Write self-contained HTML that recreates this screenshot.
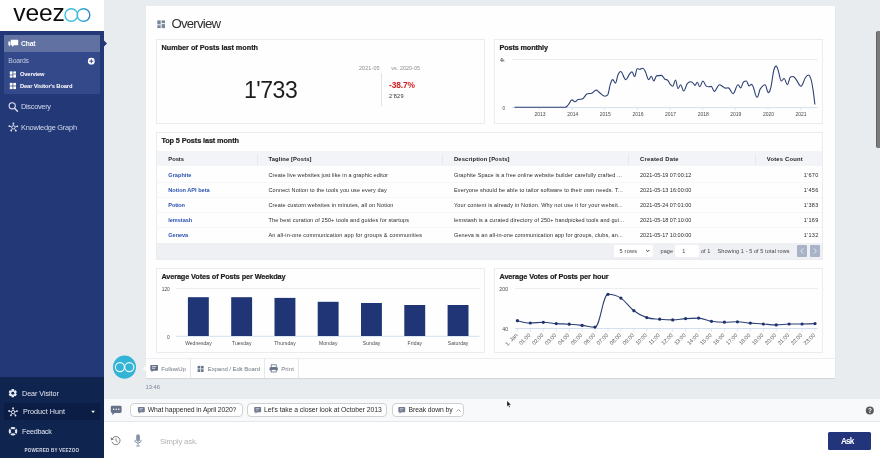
<!DOCTYPE html><html><head><meta charset="utf-8"><title>Veezoo - Overview</title><style>
html,body{margin:0;padding:0}
body{width:880px;height:458px;overflow:hidden;background:#e9ecee;position:relative;font-family:"Liberation Sans", sans-serif}
#r div,#r span,#r svg{position:absolute}
#r div{box-sizing:border-box}
.t{white-space:nowrap;line-height:1;transform:translateY(-50%)}
.c{white-space:nowrap;line-height:1;transform:translate(-50%,-50%)}
.card{background:#fefefe;border:1px solid #ebecee}

</style></head><body><div id="r">
<div style="left:0px;top:0px;width:104px;height:31px;background:#fff"></div>
<div style="left:0px;top:31px;width:104px;height:346px;background:#233977"></div>
<div style="left:0px;top:377px;width:104px;height:81px;background:#102450"></div>
<div style="left:4px;top:35px;width:96px;height:17px;background:#6071a2"></div>
<div style="left:4px;top:52px;width:96px;height:41.6px;background:#34498a"></div>
<div style="left:4px;top:403.2px;width:96px;height:16.8px;background:#0c1d45"></div>
<div style="left:145.5px;top:6px;width:689.5px;height:372px;background:#fefefe;box-shadow:0 1px 1px rgba(0,0,0,.08)"></div>
<div class="card" style="left:156px;top:39px;width:329px;height:85px;"></div>
<div class="card" style="left:494px;top:39px;width:329px;height:85px;"></div>
<div class="card" style="left:156px;top:132px;width:667px;height:128px;"></div>
<div class="card" style="left:156px;top:268px;width:329px;height:85px;"></div>
<div class="card" style="left:494px;top:268px;width:329px;height:85px;"></div>
<div style="left:157px;top:151.4px;width:665px;height:15px;background:#f3f4f8"></div>
<div style="left:157px;top:182px;width:665px;height:0.8px;background:#f6f7f8"></div>
<div style="left:157px;top:197px;width:665px;height:0.8px;background:#f6f7f8"></div>
<div style="left:157px;top:212px;width:665px;height:0.8px;background:#f6f7f8"></div>
<div style="left:157px;top:227px;width:665px;height:0.8px;background:#f6f7f8"></div>
<div style="left:157px;top:242.5px;width:665px;height:16.5px;background:#eef0f4"></div>
<div style="left:257px;top:154px;width:0.8px;height:10.5px;background:#e6e8ed"></div>
<div style="left:442.3px;top:154px;width:0.8px;height:10.5px;background:#e6e8ed"></div>
<div style="left:628.2px;top:154px;width:0.8px;height:10.5px;background:#e6e8ed"></div>
<div style="left:755px;top:154px;width:0.8px;height:10.5px;background:#e6e8ed"></div>
<div style="left:614.2px;top:245px;width:39px;height:12px;background:#fff;border-radius:1.5px"></div>
<div style="left:675px;top:245px;width:23.7px;height:12px;background:#fff;border-radius:1.5px"></div>
<div style="left:796.9px;top:245.4px;width:10.4px;height:11.2px;background:#a8b3c8;border-radius:1px"></div>
<div style="left:810px;top:245.4px;width:10.3px;height:11.2px;background:#a8b3c8;border-radius:1px"></div>
<div style="left:381.2px;top:73px;width:0.8px;height:33px;background:#dfe2e6"></div>
<div style="left:145.5px;top:358.3px;width:689.5px;height:0.7px;background:#eceef1"></div>
<div style="left:190px;top:359px;width:0.8px;height:19px;background:#e6e8ec"></div>
<div style="left:264.4px;top:359px;width:0.8px;height:19px;background:#e6e8ec"></div>
<div style="left:298px;top:359px;width:0.8px;height:19px;background:#e6e8ec"></div>
<div style="left:104px;top:399px;width:776px;height:23.4px;background:#f8f9fa;border-bottom:1px solid #e6e7e9"></div>
<div style="left:104px;top:422.4px;width:776px;height:35.6px;background:#fff"></div>
<div style="left:130px;top:403px;width:113px;height:14px;background:#fff;border:1px solid #cfd0d3;border-radius:4px"></div>
<div style="left:247px;top:403px;width:140px;height:14px;background:#fff;border:1px solid #cfd0d3;border-radius:4px"></div>
<div style="left:392px;top:403px;width:72px;height:14px;background:#fff;border:1px solid #cfd0d3;border-radius:4px"></div>
<div style="left:828px;top:432px;width:42.6px;height:18.2px;background:#22357b;border-radius:1.5px"></div>
<div style="left:876px;top:31px;width:5px;height:116.5px;background:#7a7a7a;border-left:1px solid #636363;border-radius:2px 0 0 2px"></div>
<svg width="880" height="458" viewBox="0 0 880 458" style="left:0;top:0">
<defs><linearGradient id="lg" x1="0" x2="1"><stop offset="0" stop-color="#3fc0dc"/><stop offset="1" stop-color="#2a86c6"/></linearGradient></defs>
<circle cx="71.3" cy="15" r="6.3" fill="none" stroke="#3cbddb" stroke-width="1.4"/>
<circle cx="83.5" cy="15" r="6.3" fill="none" stroke="url(#lg)" stroke-width="1.4"/>
<path d="M8.4 41.6h2v3.6h-.4v1.3l-1.2-1.3h-.4z" fill="#fff"/>
<path d="M11.4 39.7h6.2q.6 0 .6.6v4.3q0 .6-.6.6h-3.6l-1.9 1.9v-1.9h-.7q-.6 0-.6-.6v-4.3q0-.6.6-.6z" fill="#fff"/>
<circle cx="91.3" cy="61.2" r="3.4" fill="#fff"/><path d="M89.3 61.2h4M91.3 59.2v4" stroke="#34498a" stroke-width="1"/>
<rect x="9.80" y="71.40" width="2.73" height="3.22" fill="#fff"/>
<rect x="9.80" y="75.37" width="2.73" height="2.23" fill="#fff"/>
<rect x="13.27" y="71.40" width="2.73" height="2.23" fill="#fff"/>
<rect x="13.27" y="74.38" width="2.73" height="3.22" fill="#fff"/>
<rect x="9.80" y="82.90" width="2.73" height="2.73" fill="#fff"/>
<rect x="9.80" y="86.37" width="2.73" height="2.73" fill="#fff"/>
<rect x="13.27" y="82.90" width="2.73" height="2.73" fill="#fff"/>
<rect x="13.27" y="86.37" width="2.73" height="2.73" fill="#fff"/>
<rect x="157.30" y="20.40" width="3.39" height="4.00" fill="#7a869c"/>
<rect x="157.30" y="25.33" width="3.39" height="2.77" fill="#7a869c"/>
<rect x="161.61" y="20.40" width="3.39" height="2.77" fill="#7a869c"/>
<rect x="161.61" y="24.10" width="3.39" height="4.00" fill="#7a869c"/>
<rect x="197.60" y="365.90" width="2.64" height="2.64" fill="#66728a"/>
<rect x="197.60" y="369.26" width="2.64" height="2.64" fill="#66728a"/>
<rect x="200.96" y="365.90" width="2.64" height="2.64" fill="#66728a"/>
<rect x="200.96" y="369.26" width="2.64" height="2.64" fill="#66728a"/>
<circle cx="12.2" cy="105.8" r="3.1" fill="none" stroke="#dfe4f2" stroke-width="1.1"/><path d="M14.5 108.2l3 3" stroke="#dfe4f2" stroke-width="1.4" stroke-linecap="round"/>
<g stroke="#dfe4f2" stroke-width=".7" fill="#dfe4f2">
<circle cx="13.4" cy="127.3" r="1.7" fill="none" stroke-width=".9"/>
<path d="M13.4 125.6L13.4 123.4"/><circle cx="13.4" cy="123.4" r=".9" stroke="none"/>
<path d="M15.0 126.9L17.3 126.3"/><circle cx="17.3" cy="126.3" r=".9" stroke="none"/>
<path d="M14.4 128.7L15.8 130.7"/><circle cx="15.8" cy="130.7" r=".9" stroke="none"/>
<path d="M12.4 128.7L11.2 130.5"/><circle cx="11.2" cy="130.5" r=".9" stroke="none"/>
<path d="M11.8 126.9L9.4 126.2"/><circle cx="9.4" cy="126.2" r=".9" stroke="none"/>
</g>
<g stroke="#e6e9f2" stroke-width=".7" fill="#e6e9f2">
<circle cx="13.1" cy="412.1" r="1.7" fill="none" stroke-width=".9"/>
<path d="M13.1 410.4L13.1 408.2"/><circle cx="13.1" cy="408.2" r=".9" stroke="none"/>
<path d="M14.7 411.7L17.0 411.1"/><circle cx="17.0" cy="411.1" r=".9" stroke="none"/>
<path d="M14.1 413.5L15.5 415.5"/><circle cx="15.5" cy="415.5" r=".9" stroke="none"/>
<path d="M12.1 413.5L10.9 415.3"/><circle cx="10.9" cy="415.3" r=".9" stroke="none"/>
<path d="M11.5 411.7L9.1 411.0"/><circle cx="9.1" cy="411.0" r=".9" stroke="none"/>
</g>
<g fill="#e6e9f2">
<rect x="11.55" y="389.10" width="2.5" height="8.2" rx=".3" transform="rotate(0 12.80 393.20)"/>
<rect x="11.55" y="389.10" width="2.5" height="8.2" rx=".3" transform="rotate(60 12.80 393.20)"/>
<rect x="11.55" y="389.10" width="2.5" height="8.2" rx=".3" transform="rotate(120 12.80 393.20)"/>
<circle cx="12.80" cy="393.20" r="3.05"/></g><circle cx="12.80" cy="393.20" r="1.45" fill="#102450"/>
<circle cx="13" cy="431.3" r="3.25" fill="none" stroke="#e6e9f2" stroke-width="2.1"/>
<path d="M9.9 428.2l1.6 1.6M16.1 428.2l-1.6 1.6M9.9 434.4l1.6-1.6M16.1 434.4l-1.6-1.6" stroke="#102450" stroke-width="1.1"/>
<path d="M91.2 410.8h3.8l-1.9 2.1z" fill="#fff"/>
<path d="M151.00 364.90h6.30q.7 0 .7.7v4.40q0 .7-.7.7h-4.20l-1.5 1.5v-1.5h-.6q-.7 0-.7-.7v-4.40q0-.7.7-.7z" fill="#66728a"/>
<path d="M152 366.6h4.2M152 368.3h3" stroke="#fff" stroke-width=".7"/>
<g fill="#66728a"><rect x="271.2" y="364.8" width="5" height="2.6" fill="none" stroke="#66728a" stroke-width=".8"/><rect x="269.6" y="367.2" width="8.2" height="3.4" rx=".7"/><rect x="271.2" y="369.4" width="5" height="2.6" fill="#fff" stroke="#66728a" stroke-width=".8"/></g>
<path d="M138.60 406.90h5.50q.7 0 .7.7v3.90q0 .7-.7.7h-3.40l-1.5 1.5v-1.5h-.6q-.7 0-.7-.7v-3.90q0-.7.7-.7z" fill="#6e7b90"/>
<path d="M139.5 408.6h3.6M139.5 410.1h2.6" stroke="#e8ebf0" stroke-width=".6"/>
<path d="M254.90 406.90h5.50q.7 0 .7.7v3.90q0 .7-.7.7h-3.40l-1.5 1.5v-1.5h-.6q-.7 0-.7-.7v-3.90q0-.7.7-.7z" fill="#6e7b90"/>
<path d="M255.8 408.6h3.6M255.8 410.1h2.6" stroke="#e8ebf0" stroke-width=".6"/>
<path d="M399.00 406.90h5.50q.7 0 .7.7v3.90q0 .7-.7.7h-3.40l-1.5 1.5v-1.5h-.6q-.7 0-.7-.7v-3.90q0-.7.7-.7z" fill="#6e7b90"/>
<path d="M399.9 408.6h3.6M399.9 410.1h2.6" stroke="#e8ebf0" stroke-width=".6"/>
<path d="M112.1 405.7h8.2q1.3 0 1.3 1.3v4.6q0 1.3-1.3 1.3h-5.6l-2.4 2.4v-2.4h-.2q-1.3 0-1.3-1.3v-4.6q0-1.3 1.3-1.3z" fill="#66728a"/>
<g fill="#fff"><circle cx="113.6" cy="409.3" r=".75"/><circle cx="116.2" cy="409.3" r=".75"/><circle cx="118.8" cy="409.3" r=".75"/></g>
<path d="M456.6 411.6l2-2 2 2" stroke="#777" stroke-width=".7" fill="none"/>
<path d="M112.6 438.2a4.1 4.1 0 1 1 -.6 3.6" fill="none" stroke="#7b7b7b" stroke-width="1"/><path d="M110.6 437.2l.6 3.2 3-1.2z" fill="#7b7b7b"/><path d="M116 438.3v2.6l1.7 1.1" fill="none" stroke="#7b7b7b" stroke-width=".9"/>
<rect x="136.2" y="434.3" width="3.7" height="7.4" rx="1.85" fill="#8592a5"/><path d="M134.8 439.8a3.25 3.25 0 0 0 6.5 0M138.05 443v2.6M136.2 446h3.7" fill="none" stroke="#8592a5" stroke-width=".95"/>
<path d="M646.2 250l1.6 1.6 1.6-1.6" stroke="#222" stroke-width=".9" fill="none"/>
<path d="M803.2 248.4l-2.4 2.6 2.4 2.6M813.9 248.4l2.4 2.6-2.4 2.6" stroke="#e8ecf3" stroke-width=".9" fill="none"/>
<path d="M104 40.5 L107 43.5 L104 46.5Z" fill="#233977"/>
<path d="M512 59.5H817.6" stroke="#e6e8ec" stroke-width=".8"/>
<path d="M512 107.6H817.6" stroke="#ccd6eb" stroke-width=".8"/>
<path d="M539.4 108v2.2" stroke="#ccd6eb" stroke-width=".6"/>
<path d="M572.1 108v2.2" stroke="#ccd6eb" stroke-width=".6"/>
<path d="M604.7 108v2.2" stroke="#ccd6eb" stroke-width=".6"/>
<path d="M637.4 108v2.2" stroke="#ccd6eb" stroke-width=".6"/>
<path d="M670.0 108v2.2" stroke="#ccd6eb" stroke-width=".6"/>
<path d="M702.7 108v2.2" stroke="#ccd6eb" stroke-width=".6"/>
<path d="M735.4 108v2.2" stroke="#ccd6eb" stroke-width=".6"/>
<path d="M768.0 108v2.2" stroke="#ccd6eb" stroke-width=".6"/>
<path d="M800.7 108v2.2" stroke="#ccd6eb" stroke-width=".6"/>
<path d="M514.5 107.2 C514.5 107.2 529.8 107.2 540.0 107.2 C548.8 107.2 553.2 107.2 562.0 107.2 C563.5 107.2 564.2 107.2 565.7 107.1 C566.8 107.0 567.4 105.8 568.5 104.5 C569.9 102.9 570.5 99.9 571.9 99.9 C573.1 99.9 573.8 101.7 575.0 101.7 C576.2 101.7 576.8 100.0 578.0 99.5 C579.7 99.0 580.5 99.5 582.2 99.0 C584.3 98.5 585.3 94.2 587.4 93.7 C589.1 93.2 589.9 93.7 591.6 93.2 C593.5 92.7 594.4 90.1 596.3 90.1 C597.7 90.1 598.5 92.0 599.9 93.0 C601.9 94.4 603.0 96.2 605.0 96.2 C606.1 96.2 606.6 96.2 607.7 94.9 C608.7 93.6 609.2 87.8 610.2 84.7 C611.2 81.6 611.7 79.6 612.7 79.6 C613.8 79.6 614.3 83.1 615.4 83.1 C616.5 83.1 617.0 76.8 618.1 74.4 C619.1 72.2 619.6 71.5 620.6 71.5 C622.7 71.5 623.7 79.6 625.8 79.6 C627.2 79.6 627.9 76.1 629.3 74.4 C630.4 73.1 630.9 71.9 632.0 71.9 C633.1 71.9 633.6 76.5 634.7 76.5 C635.7 76.5 636.2 68.8 637.2 68.8 C638.2 68.8 638.7 69.2 639.7 69.2 C640.9 69.2 641.6 68.2 642.8 68.2 C643.9 68.2 644.4 69.8 645.5 71.9 C646.7 74.3 647.4 79.6 648.6 79.6 C649.7 79.6 650.2 76.2 651.3 76.2 C652.3 76.2 652.8 81.0 653.8 81.0 C654.8 81.0 655.4 76.4 656.4 75.9 C658.4 75.4 659.4 75.4 661.4 75.4 C662.8 75.4 663.5 78.1 664.9 79.2 C666.0 80.0 666.5 79.2 667.6 80.2 C668.7 81.2 669.2 83.2 670.3 84.4 C671.3 85.6 671.8 86.2 672.8 86.2 C673.9 86.2 674.4 80.0 675.5 80.0 C676.5 80.0 677.0 88.5 678.0 88.5 C679.1 88.5 679.6 84.8 680.7 84.8 C681.9 84.8 682.4 91.0 683.6 91.0 C685.1 91.0 685.8 85.7 687.3 83.7 C688.5 82.0 689.2 81.7 690.4 81.7 C691.5 81.7 692.0 82.2 693.1 83.1 C693.9 83.7 694.2 85.4 695.0 85.4 C695.9 85.4 696.4 82.3 697.3 82.3 C698.3 82.3 698.8 86.8 699.8 86.8 C701.0 86.8 701.7 81.0 702.9 81.0 C704.1 81.0 704.8 84.8 706.0 85.8 C707.1 86.8 707.6 86.8 708.7 86.8 C709.7 86.8 710.2 86.4 711.2 86.4 C712.4 86.4 713.1 91.4 714.3 91.4 C716.4 91.4 717.4 84.8 719.5 84.8 C720.7 84.8 721.4 85.7 722.6 86.4 C723.6 87.0 724.1 88.1 725.1 88.1 C726.4 88.1 727.1 87.9 728.4 87.9 C730.2 87.9 731.2 93.7 733.0 93.7 C735.0 93.7 736.1 84.8 738.1 84.8 C739.1 84.8 739.6 87.9 740.6 87.9 C741.8 87.9 742.5 82.4 743.7 81.7 C744.8 81.0 745.3 81.0 746.4 81.0 C747.5 81.0 748.0 86.0 749.1 86.0 C750.1 86.0 750.6 84.4 751.6 84.4 C753.8 84.4 755.0 97.2 757.2 97.2 C758.4 97.2 759.1 90.8 760.3 88.9 C762.2 85.9 763.2 84.8 765.1 84.8 C766.3 84.8 767.0 92.6 768.2 92.6 C769.0 92.6 769.5 92.6 770.3 89.3 C771.7 86.0 772.4 75.9 773.8 70.3 C774.7 66.6 775.2 66.1 776.1 66.1 C776.9 66.1 777.4 67.9 778.2 70.3 C779.4 73.9 780.1 81.0 781.3 81.0 C782.5 81.0 783.0 78.5 784.2 78.5 C785.4 78.5 786.1 84.8 787.3 84.8 C788.5 84.8 789.2 77.7 790.4 77.1 C791.5 76.5 792.0 76.5 793.1 76.5 C794.3 76.5 795.0 78.1 796.2 79.6 C798.1 82.0 799.1 86.2 801.0 86.2 C802.8 86.2 803.7 80.2 805.5 77.5 C806.7 75.7 807.4 75.0 808.6 75.0 C809.3 75.0 809.6 75.0 810.3 77.5 C812.1 80.0 814.9 104.5 814.9 104.5" fill="none" stroke="#2b3f73" stroke-width="1.1" stroke-linejoin="round"/>
<path d="M176 288.5H479.4" stroke="#e6e8ec" stroke-width=".8"/>
<path d="M176 336.3H479.4" stroke="#ccd6eb" stroke-width=".8"/>
<rect x="187.9" y="297.2" width="20.9" height="38.8" fill="#1f3575"/>
<rect x="231.2" y="297.2" width="20.9" height="38.8" fill="#1f3575"/>
<rect x="274.5" y="297.9" width="20.9" height="38.1" fill="#1f3575"/>
<rect x="317.7" y="301.8" width="20.9" height="34.2" fill="#1f3575"/>
<rect x="361.0" y="303.0" width="20.9" height="33.0" fill="#1f3575"/>
<rect x="404.3" y="305.0" width="20.9" height="31.0" fill="#1f3575"/>
<rect x="447.6" y="305.0" width="20.9" height="31.0" fill="#1f3575"/>
<path d="M515 288.5H817.7" stroke="#e6e8ec" stroke-width=".8"/>
<path d="M515 328.5H817.7" stroke="#ccd6eb" stroke-width=".8"/>
<path d="M517.4 320.7 C517.4 320.7 525.2 323.0 530.3 323.0 C535.5 323.0 538.1 322.3 543.3 322.3 C548.5 322.3 551.0 323.2 556.2 323.6 C561.4 324.0 564.0 323.8 569.2 324.2 C574.3 324.6 576.9 324.8 582.1 325.4 C587.3 326.0 589.9 327.1 595.0 327.1 C600.2 327.1 602.8 294.3 608.0 294.3 C613.2 294.3 615.7 294.8 620.9 298.1 C626.1 301.4 628.7 306.8 633.9 310.7 C639.0 314.6 641.6 316.0 646.8 317.6 C652.0 319.2 654.6 318.7 659.7 319.2 C664.9 319.7 667.5 319.9 672.7 319.9 C677.9 319.9 680.4 319.0 685.6 318.6 C690.8 318.2 693.4 318.1 698.6 318.1 C703.7 318.1 706.3 320.5 711.5 321.3 C716.7 322.1 719.3 322.2 724.4 322.2 C729.6 322.2 732.2 321.8 737.4 321.8 C742.6 321.8 745.1 322.7 750.3 323.1 C755.5 323.5 758.1 323.6 763.3 324.0 C768.4 324.4 771.0 324.9 776.2 324.9 C781.4 324.9 784.0 324.0 789.1 324.0 C794.3 324.0 796.9 324.0 802.1 324.0 C807.3 324.0 815.0 323.6 815.0 323.6" fill="none" stroke="#2b3f73" stroke-width="1.1"/>
<circle cx="517.4" cy="320.7" r="1.6" fill="#1f3270"/>
<circle cx="530.3" cy="323.0" r="1.6" fill="#1f3270"/>
<circle cx="543.3" cy="322.3" r="1.6" fill="#1f3270"/>
<circle cx="556.2" cy="323.6" r="1.6" fill="#1f3270"/>
<circle cx="569.2" cy="324.2" r="1.6" fill="#1f3270"/>
<circle cx="582.1" cy="325.4" r="1.6" fill="#1f3270"/>
<circle cx="595.0" cy="327.1" r="1.6" fill="#1f3270"/>
<circle cx="608.0" cy="294.3" r="1.6" fill="#1f3270"/>
<circle cx="620.9" cy="298.1" r="1.6" fill="#1f3270"/>
<circle cx="633.9" cy="310.7" r="1.6" fill="#1f3270"/>
<circle cx="646.8" cy="317.6" r="1.6" fill="#1f3270"/>
<circle cx="659.7" cy="319.2" r="1.6" fill="#1f3270"/>
<circle cx="672.7" cy="319.9" r="1.6" fill="#1f3270"/>
<circle cx="685.6" cy="318.6" r="1.6" fill="#1f3270"/>
<circle cx="698.6" cy="318.1" r="1.6" fill="#1f3270"/>
<circle cx="711.5" cy="321.3" r="1.6" fill="#1f3270"/>
<circle cx="724.4" cy="322.2" r="1.6" fill="#1f3270"/>
<circle cx="737.4" cy="321.8" r="1.6" fill="#1f3270"/>
<circle cx="750.3" cy="323.1" r="1.6" fill="#1f3270"/>
<circle cx="763.3" cy="324.0" r="1.6" fill="#1f3270"/>
<circle cx="776.2" cy="324.9" r="1.6" fill="#1f3270"/>
<circle cx="789.1" cy="324.0" r="1.6" fill="#1f3270"/>
<circle cx="802.1" cy="324.0" r="1.6" fill="#1f3270"/>
<circle cx="815.0" cy="323.6" r="1.6" fill="#1f3270"/>
<path d="M517.4 328.9v2.8" stroke="#ccd6eb" stroke-width=".6"/>
<text x="517.0" y="336" font-size="5.5" fill="#555" text-anchor="end" transform="rotate(-45 517.0 334.6)">1. Jan</text>
<path d="M530.3 328.9v2.8" stroke="#ccd6eb" stroke-width=".6"/>
<text x="529.9" y="336" font-size="5.5" fill="#555" text-anchor="end" transform="rotate(-45 529.9 334.6)">01:00</text>
<path d="M543.3 328.9v2.8" stroke="#ccd6eb" stroke-width=".6"/>
<text x="542.9" y="336" font-size="5.5" fill="#555" text-anchor="end" transform="rotate(-45 542.9 334.6)">02:00</text>
<path d="M556.2 328.9v2.8" stroke="#ccd6eb" stroke-width=".6"/>
<text x="555.8" y="336" font-size="5.5" fill="#555" text-anchor="end" transform="rotate(-45 555.8 334.6)">03:00</text>
<path d="M569.2 328.9v2.8" stroke="#ccd6eb" stroke-width=".6"/>
<text x="568.8" y="336" font-size="5.5" fill="#555" text-anchor="end" transform="rotate(-45 568.8 334.6)">04:00</text>
<path d="M582.1 328.9v2.8" stroke="#ccd6eb" stroke-width=".6"/>
<text x="581.7" y="336" font-size="5.5" fill="#555" text-anchor="end" transform="rotate(-45 581.7 334.6)">05:00</text>
<path d="M595.0 328.9v2.8" stroke="#ccd6eb" stroke-width=".6"/>
<text x="594.6" y="336" font-size="5.5" fill="#555" text-anchor="end" transform="rotate(-45 594.6 334.6)">06:00</text>
<path d="M608.0 328.9v2.8" stroke="#ccd6eb" stroke-width=".6"/>
<text x="607.6" y="336" font-size="5.5" fill="#555" text-anchor="end" transform="rotate(-45 607.6 334.6)">07:00</text>
<path d="M620.9 328.9v2.8" stroke="#ccd6eb" stroke-width=".6"/>
<text x="620.5" y="336" font-size="5.5" fill="#555" text-anchor="end" transform="rotate(-45 620.5 334.6)">08:00</text>
<path d="M633.9 328.9v2.8" stroke="#ccd6eb" stroke-width=".6"/>
<text x="633.5" y="336" font-size="5.5" fill="#555" text-anchor="end" transform="rotate(-45 633.5 334.6)">09:00</text>
<path d="M646.8 328.9v2.8" stroke="#ccd6eb" stroke-width=".6"/>
<text x="646.4" y="336" font-size="5.5" fill="#555" text-anchor="end" transform="rotate(-45 646.4 334.6)">10:00</text>
<path d="M659.7 328.9v2.8" stroke="#ccd6eb" stroke-width=".6"/>
<text x="659.3" y="336" font-size="5.5" fill="#555" text-anchor="end" transform="rotate(-45 659.3 334.6)">11:00</text>
<path d="M672.7 328.9v2.8" stroke="#ccd6eb" stroke-width=".6"/>
<text x="672.3" y="336" font-size="5.5" fill="#555" text-anchor="end" transform="rotate(-45 672.3 334.6)">12:00</text>
<path d="M685.6 328.9v2.8" stroke="#ccd6eb" stroke-width=".6"/>
<text x="685.2" y="336" font-size="5.5" fill="#555" text-anchor="end" transform="rotate(-45 685.2 334.6)">13:00</text>
<path d="M698.6 328.9v2.8" stroke="#ccd6eb" stroke-width=".6"/>
<text x="698.2" y="336" font-size="5.5" fill="#555" text-anchor="end" transform="rotate(-45 698.2 334.6)">14:00</text>
<path d="M711.5 328.9v2.8" stroke="#ccd6eb" stroke-width=".6"/>
<text x="711.1" y="336" font-size="5.5" fill="#555" text-anchor="end" transform="rotate(-45 711.1 334.6)">15:00</text>
<path d="M724.4 328.9v2.8" stroke="#ccd6eb" stroke-width=".6"/>
<text x="724.0" y="336" font-size="5.5" fill="#555" text-anchor="end" transform="rotate(-45 724.0 334.6)">16:00</text>
<path d="M737.4 328.9v2.8" stroke="#ccd6eb" stroke-width=".6"/>
<text x="737.0" y="336" font-size="5.5" fill="#555" text-anchor="end" transform="rotate(-45 737.0 334.6)">17:00</text>
<path d="M750.3 328.9v2.8" stroke="#ccd6eb" stroke-width=".6"/>
<text x="749.9" y="336" font-size="5.5" fill="#555" text-anchor="end" transform="rotate(-45 749.9 334.6)">18:00</text>
<path d="M763.3 328.9v2.8" stroke="#ccd6eb" stroke-width=".6"/>
<text x="762.9" y="336" font-size="5.5" fill="#555" text-anchor="end" transform="rotate(-45 762.9 334.6)">19:00</text>
<path d="M776.2 328.9v2.8" stroke="#ccd6eb" stroke-width=".6"/>
<text x="775.8" y="336" font-size="5.5" fill="#555" text-anchor="end" transform="rotate(-45 775.8 334.6)">20:00</text>
<path d="M789.1 328.9v2.8" stroke="#ccd6eb" stroke-width=".6"/>
<text x="788.7" y="336" font-size="5.5" fill="#555" text-anchor="end" transform="rotate(-45 788.7 334.6)">21:00</text>
<path d="M802.1 328.9v2.8" stroke="#ccd6eb" stroke-width=".6"/>
<text x="801.7" y="336" font-size="5.5" fill="#555" text-anchor="end" transform="rotate(-45 801.7 334.6)">22:00</text>
<path d="M815.0 328.9v2.8" stroke="#ccd6eb" stroke-width=".6"/>
<text x="814.6" y="336" font-size="5.5" fill="#555" text-anchor="end" transform="rotate(-45 814.6 334.6)">23:00</text>
<circle cx="124.5" cy="367.1" r="11.55" fill="#33b4d6"/>
<circle cx="119.9" cy="367.1" r="4.55" fill="none" stroke="#f2fbfd" stroke-width="1.15"/>
<circle cx="129.3" cy="367.1" r="4.55" fill="none" stroke="#f2fbfd" stroke-width="1.15"/>
<path d="M145.6 365.9 L142.8 368.5 L145.6 371.1Z" fill="#fefefe"/>
<path d="M507 400.7 L507 406.5 L508.3 405.3 L509.3 407.5 L510.2 407.1 L509.2 404.9 L511 404.8 Z" fill="#111" stroke="#fff" stroke-width=".35"/>
<circle cx="869.8" cy="410.5" r="4" fill="#595959"/>
</svg>
<svg width="880" height="458" viewBox="0 0 880 458" style="left:0;top:0" font-family='&quot;Liberation Sans&quot;, sans-serif'>
<text y="45.8" font-size="6.7" fill="#ffffff" font-weight="700" textLength="14.4" x="21.1">Chat</text>
<text y="63.0" font-size="6.8" fill="#c3cbe3" textLength="20.7" x="8.3">Boards</text>
<text y="76.0" font-size="5.8" fill="#ffffff" font-weight="700" textLength="24.5" x="20">Overview</text>
<text y="87.9" font-size="5.8" fill="#ffffff" font-weight="700" textLength="52.5" x="20">Dear Visitor's Board</text>
<text y="108.9" font-size="7.4" fill="#d3d9ec" textLength="30" x="21">Discovery</text>
<text y="129.9" font-size="7.4" fill="#d3d9ec" textLength="56" x="21">Knowledge Graph</text>
<text y="395.8" font-size="7.2" fill="#e1e5f0" textLength="36.9" x="22">Dear Visitor</text>
<text y="414.3" font-size="7.2" fill="#e1e5f0" textLength="42" x="22.9">Product Hunt</text>
<text y="433.9" font-size="7.2" fill="#e1e5f0" textLength="29.9" x="22">Feedback</text>
<text y="452.3" font-size="4.6" fill="#d5d9e6" font-weight="700" textLength="54.5" x="24.6">POWERED BY VEEZOO</text>
<text y="21.4" font-size="24.6" fill="#0c0c0c" textLength="51.6" x="13.3">veez</text>
<text y="28.2" font-size="13.2" fill="#2e2e2e" textLength="49.5" x="171.5">Overview</text>
<text y="49.9" font-size="7.3" fill="#222" font-weight="700" textLength="96.5" x="161.5" stroke="#222" stroke-width=".2">Number of Posts last month</text>
<text y="49.9" font-size="7.3" fill="#222" font-weight="700" textLength="48.5" x="499.5" stroke="#222" stroke-width=".2">Posts monthly</text>
<text y="143.3" font-size="7.3" fill="#222" font-weight="700" textLength="77.6" x="161.4" stroke="#222" stroke-width=".2">Top 5 Posts last month</text>
<text y="279.3" font-size="7.3" fill="#222" font-weight="700" textLength="124.1" x="161.4" stroke="#222" stroke-width=".2">Average Votes of Posts per Weekday</text>
<text y="279.3" font-size="7.3" fill="#222" font-weight="700" textLength="109.1" x="499.5" stroke="#222" stroke-width=".2">Average Votes of Posts per hour</text>
<text y="97.7" font-size="23" fill="#1c1c1c" textLength="53.7" x="244">1'733</text>
<text y="69.7" font-size="5.4" fill="#8a8d92" textLength="20.5" x="359">2021-05</text>
<text y="69.7" font-size="5.4" fill="#8a8d92" textLength="28.7" x="391.3">vs. 2020-05</text>
<text y="87.9" font-size="8.4" fill="#d1201f" font-weight="700" textLength="26" x="389">-38.7%</text>
<text y="97.7" font-size="5.6" fill="#333" textLength="14.6" x="389">2'829</text>
<text y="161.2" font-size="5.8" fill="#222" font-weight="700" textLength="15.7" x="168.3">Posts</text>
<text y="161.2" font-size="5.8" fill="#222" font-weight="700" textLength="43" x="268.5">Tagline [Posts]</text>
<text y="161.2" font-size="5.8" fill="#222" font-weight="700" textLength="55.5" x="454">Description [Posts]</text>
<text y="161.2" font-size="5.8" fill="#222" font-weight="700" textLength="38.6" x="640">Created Date</text>
<text y="161.2" font-size="5.8" fill="#222" font-weight="700" textLength="35.9" x="766.8">Votes Count</text>
<text y="176.6" font-size="5.6" fill="#2a52b0" font-weight="700" textLength="23.1" x="168.3">Graphite</text>
<text y="176.6" font-size="5.5" fill="#2a2a2a" textLength="119.4" x="268.5">Create live websites just like in a graphic editor</text>
<text y="176.6" font-size="5.5" fill="#2a2a2a" textLength="167.8" x="454">Graphite Space is a free online website builder carefully crafted ...</text>
<text y="176.6" font-size="5.5" fill="#2a2a2a" textLength="51.4" x="640">2021-05-19 07:00:12</text>
<text y="176.6" font-size="5.5" fill="#2a2a2a" textLength="14.5" x="803.7">1'670</text>
<text y="191.7" font-size="5.6" fill="#2a52b0" font-weight="700" textLength="41.4" x="168.3">Notion API beta</text>
<text y="191.7" font-size="5.5" fill="#2a2a2a" textLength="118.2" x="268.5">Connect Notion to the tools you use every day</text>
<text y="191.7" font-size="5.5" fill="#2a2a2a" textLength="168.7" x="454">Everyone should be able to tailor software to their own needs. T...</text>
<text y="191.7" font-size="5.5" fill="#2a2a2a" textLength="51.4" x="640">2021-05-13 16:00:00</text>
<text y="191.7" font-size="5.5" fill="#2a2a2a" textLength="14.5" x="803.7">1'456</text>
<text y="206.7" font-size="5.6" fill="#2a52b0" font-weight="700" textLength="16.7" x="168.3">Potion</text>
<text y="206.7" font-size="5.5" fill="#2a2a2a" textLength="124.9" x="268.5">Create custom websites in minutes, all on Notion</text>
<text y="206.7" font-size="5.5" fill="#2a2a2a" textLength="168.7" x="454">Your content is already in Notion. Why not use it for your websit...</text>
<text y="206.7" font-size="5.5" fill="#2a2a2a" textLength="51.4" x="640">2021-05-24 07:01:00</text>
<text y="206.7" font-size="5.5" fill="#2a2a2a" textLength="14.5" x="803.7">1'383</text>
<text y="221.8" font-size="5.6" fill="#2a52b0" font-weight="700" textLength="23.9" x="168.3">lemstash</text>
<text y="221.8" font-size="5.5" fill="#2a2a2a" textLength="140.5" x="268.5">The best curation of 250+ tools and guides for startups</text>
<text y="221.8" font-size="5.5" fill="#2a2a2a" textLength="170" x="454">lemstash is a curated directory of 250+ handpicked tools and gui...</text>
<text y="221.8" font-size="5.5" fill="#2a2a2a" textLength="51.4" x="640">2021-05-18 07:10:00</text>
<text y="221.8" font-size="5.5" fill="#2a2a2a" textLength="14.5" x="803.7">1'169</text>
<text y="237.0" font-size="5.6" fill="#2a52b0" font-weight="700" textLength="19.9" x="168.3">Geneva</text>
<text y="237.0" font-size="5.5" fill="#2a2a2a" textLength="153.5" x="268.5">An all-in-one communication app for groups &amp; communities</text>
<text y="237.0" font-size="5.5" fill="#2a2a2a" textLength="168.7" x="454">Geneva is an all-in-one communication app for groups, clubs, an...</text>
<text y="237.0" font-size="5.5" fill="#2a2a2a" textLength="51.4" x="640">2021-05-17 10:00:00</text>
<text y="237.0" font-size="5.5" fill="#2a2a2a" textLength="14.5" x="803.7">1'132</text>
<text y="253.0" font-size="5.5" fill="#444" textLength="17.5" x="619.5">5 rows</text>
<text y="253.0" font-size="5.5" fill="#444" textLength="12.5" x="660.5">page</text>
<text y="253.0" font-size="5.5" fill="#444" x="682.3">1</text>
<text y="253.0" font-size="5.5" fill="#444" textLength="9.3" x="701">of 1</text>
<text y="253.0" font-size="5.5" fill="#444" textLength="72" x="717.5">Showing 1 - 5 of 5 total rows</text>
<text y="370.5" font-size="6" fill="#6f7683" textLength="24.5" x="161.3">FollowUp</text>
<text y="370.5" font-size="6" fill="#6f7683" textLength="52.3" x="207.7">Expand / Edit Board</text>
<text y="370.5" font-size="6" fill="#6f7683" textLength="12.6" x="281.2">Print</text>
<text y="388.8" font-size="5.8" fill="#78849a" textLength="14.4" x="145.5">13:46</text>
<text y="412.4" font-size="6.8" fill="#2c2c2c" textLength="88.7" x="147.7">What happened in April 2020?</text>
<text y="412.4" font-size="6.8" fill="#2c2c2c" textLength="117.8" x="264">Let's take a closer look at October 2013</text>
<text y="412.4" font-size="6.8" fill="#2c2c2c" textLength="44.1" x="408.6">Break down by</text>
<text y="443.6" font-size="7.6" fill="#b2b2b2" textLength="37.7" x="160">Simply ask.</text>
<text y="443.8" font-size="8.2" fill="#fff" font-weight="700" textLength="13.5" x="840.9">Ask</text>
<text y="62.3" font-size="4.6" fill="#4a4a4a" textLength="4.6" x="500">4k</text>
<text y="109.5" font-size="4.6" fill="#4a4a4a" x="502.6">0</text>
<text y="116.4" font-size="5" fill="#4a4a4a" textLength="11" text-anchor="middle" x="540.1">2013</text>
<text y="116.4" font-size="5" fill="#4a4a4a" textLength="11" text-anchor="middle" x="572.72">2014</text>
<text y="116.4" font-size="5" fill="#4a4a4a" textLength="11" text-anchor="middle" x="605.34">2015</text>
<text y="116.4" font-size="5" fill="#4a4a4a" textLength="11" text-anchor="middle" x="637.96">2016</text>
<text y="116.4" font-size="5" fill="#4a4a4a" textLength="11" text-anchor="middle" x="670.58">2017</text>
<text y="116.4" font-size="5" fill="#4a4a4a" textLength="11" text-anchor="middle" x="703.2">2018</text>
<text y="116.4" font-size="5" fill="#4a4a4a" textLength="11" text-anchor="middle" x="735.82">2019</text>
<text y="116.4" font-size="5" fill="#4a4a4a" textLength="11" text-anchor="middle" x="768.44">2020</text>
<text y="116.4" font-size="5" fill="#4a4a4a" textLength="11" text-anchor="middle" x="801.06">2021</text>
<text y="290.9" font-size="4.8" fill="#4a4a4a" textLength="7.9" x="161.8">120</text>
<text y="338.5" font-size="4.8" fill="#4a4a4a" x="167">0</text>
<text y="344.9" font-size="5" fill="#4a4a4a" textLength="26.5" text-anchor="middle" x="198.4">Wednesday</text>
<text y="344.9" font-size="5" fill="#4a4a4a" textLength="19.5" text-anchor="middle" x="241.68">Tuesday</text>
<text y="344.9" font-size="5" fill="#4a4a4a" textLength="21.5" text-anchor="middle" x="284.96">Thursday</text>
<text y="344.9" font-size="5" fill="#4a4a4a" textLength="18.5" text-anchor="middle" x="328.24">Monday</text>
<text y="344.9" font-size="5" fill="#4a4a4a" textLength="17.5" text-anchor="middle" x="371.52">Sunday</text>
<text y="344.9" font-size="5" fill="#4a4a4a" textLength="14.5" text-anchor="middle" x="414.8">Friday</text>
<text y="344.9" font-size="5" fill="#4a4a4a" textLength="20.5" text-anchor="middle" x="458.08">Saturday</text>
<text y="291.1" font-size="5.2" fill="#4a4a4a" textLength="8.9" x="499.3">200</text>
<text y="331.1" font-size="5.2" fill="#4a4a4a" textLength="6" x="502.2">40</text>
<text y="412.7" font-size="6.4" fill="#fff" font-weight="700" x="867.95">?</text>
</svg>
</div></body></html>
